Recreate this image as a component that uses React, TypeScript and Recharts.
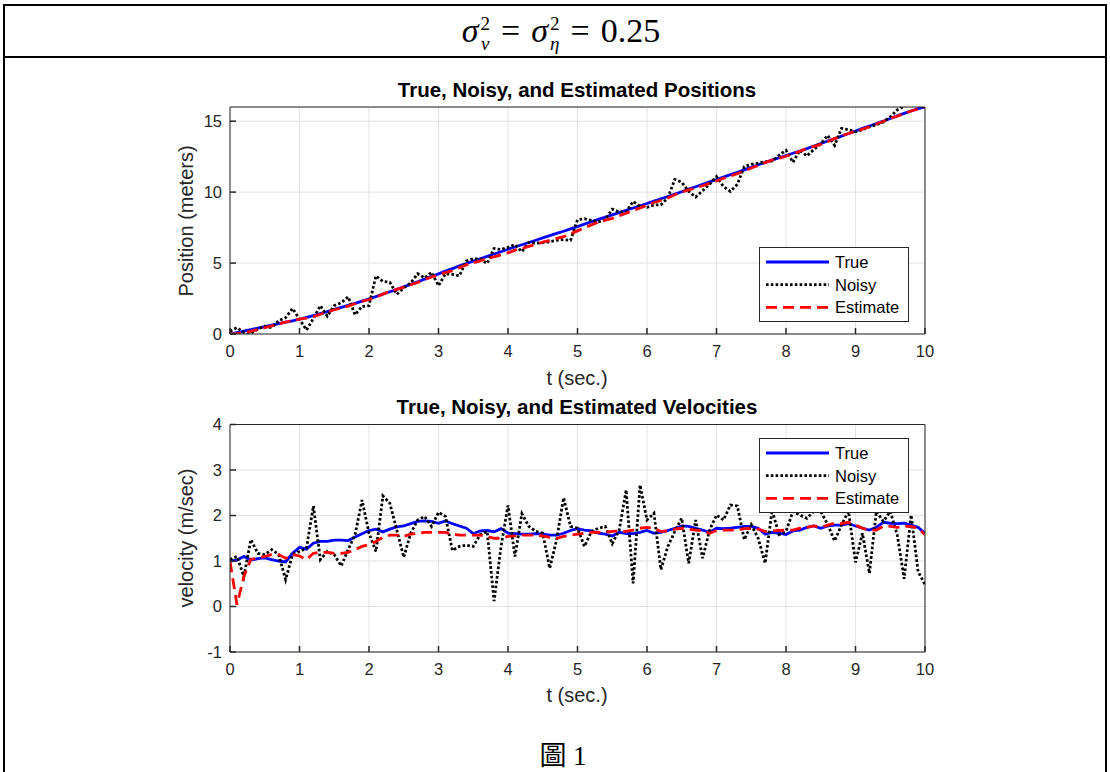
import { LineChart, Line, XAxis, YAxis, CartesianGrid, Legend } from "recharts";

const TIME = [
  0, 0.1, 0.2, 0.3, 0.4, 0.5, 0.6, 0.7, 0.8, 0.9, 1,
  1.1, 1.2, 1.3, 1.4, 1.5, 1.6, 1.7, 1.8, 1.9, 2,
  2.1, 2.2, 2.3, 2.4, 2.5, 2.6, 2.7, 2.8, 2.9, 3,
  3.1, 3.2, 3.3, 3.4, 3.5, 3.6, 3.7, 3.8, 3.9, 4,
  4.1, 4.2, 4.3, 4.4, 4.5, 4.6, 4.7, 4.8, 4.9, 5,
  5.1, 5.2, 5.3, 5.4, 5.5, 5.6, 5.7, 5.8, 5.9, 6,
  6.1, 6.2, 6.3, 6.4, 6.5, 6.6, 6.7, 6.8, 6.9, 7,
  7.1, 7.2, 7.3, 7.4, 7.5, 7.6, 7.7, 7.8, 7.9, 8,
  8.1, 8.2, 8.3, 8.4, 8.5, 8.6, 8.7, 8.8, 8.9, 9,
  9.1, 9.2, 9.3, 9.4, 9.5, 9.6, 9.7, 9.8, 9.9, 10,
];

const TRUE_POS = [
  0, 0.1, 0.2, 0.31, 0.41, 0.52, 0.63, 0.73, 0.83, 0.93, 1.04,
  1.17, 1.3, 1.44, 1.58, 1.73, 1.87, 2.02, 2.16, 2.32, 2.48,
  2.64, 2.81, 2.98, 3.15, 3.32, 3.5, 3.68, 3.87, 4.06, 4.24,
  4.43, 4.61, 4.8, 4.97, 5.14, 5.3, 5.47, 5.64, 5.8, 5.97,
  6.13, 6.29, 6.45, 6.61, 6.77, 6.93, 7.09, 7.24, 7.41, 7.57,
  7.74, 7.91, 8.08, 8.24, 8.4, 8.55, 8.72, 8.88, 9.04, 9.2,
  9.37, 9.53, 9.69, 9.86, 10.03, 10.21, 10.38, 10.55, 10.72, 10.88,
  11.06, 11.23, 11.4, 11.57, 11.75, 11.93, 12.1, 12.26, 12.42, 12.58,
  12.74, 12.9, 13.07, 13.25, 13.42, 13.6, 13.77, 13.95, 14.13, 14.31,
  14.49, 14.66, 14.83, 15.0, 15.19, 15.37, 15.55, 15.72, 15.88, 16.0,
];

const NOISY_POS = [
  0.2, 0.45, 0.1, 0.05, 0.35, 0.55, 0.45, 0.95, 1.15, 1.8, 1.05,
  0.28, 1.1, 2.0, 1.25, 2.0, 2.2, 2.62, 1.35, 1.95, 2.0,
  4.1, 3.7, 3.65, 2.8, 3.25, 3.6, 4.25, 3.95, 4.35, 3.4,
  4.25, 4.2, 4.1, 5.15, 5.3, 5.3, 4.97, 6.03, 5.95, 6.1,
  6.3, 5.8, 6.45, 6.4, 6.45, 6.5, 6.6, 6.65, 6.6, 8.05,
  8.13, 8.0, 7.9, 8.05, 8.8, 8.6, 8.6, 9.35, 9.0, 8.93,
  9.1, 9.1, 9.6, 10.9, 10.7, 10.05, 9.65, 10.1, 10.55, 11.1,
  10.4, 10.05, 10.55, 11.8, 11.95, 12.05, 12.15, 12.2, 12.6, 12.95,
  12.1, 12.95, 12.55, 13.0, 13.4, 14.0, 13.3, 14.5, 14.4, 14.25,
  14.4, 14.6, 14.75, 14.95, 15.3, 15.8, 16.05, 16.2, 16.1, 16.2,
];

const EST_POS = [
  0, 0.02, 0.1, 0.19, 0.31, 0.44, 0.57, 0.71, 0.83, 0.95, 1.04,
  1.12, 1.22, 1.39, 1.55, 1.71, 1.82, 1.97, 2.13, 2.3, 2.43,
  2.61, 2.81, 3.0, 3.15, 3.3, 3.47, 3.63, 3.84, 4.02, 4.16,
  4.33, 4.47, 4.68, 4.87, 5.02, 5.15, 5.32, 5.44, 5.58, 5.72,
  5.91, 6.04, 6.17, 6.31, 6.47, 6.6, 6.74, 6.86, 7.06, 7.27,
  7.49, 7.69, 7.88, 8.02, 8.15, 8.33, 8.52, 8.7, 8.89, 9.08,
  9.27, 9.41, 9.59, 9.81, 10.01, 10.16, 10.3, 10.45, 10.62, 10.78,
  10.98, 11.13, 11.3, 11.49, 11.7, 11.88, 12.08, 12.26, 12.39, 12.53,
  12.69, 12.88, 13.07, 13.23, 13.37, 13.57, 13.77, 13.97, 14.13, 14.29,
  14.44, 14.61, 14.8, 14.98, 15.19, 15.35, 15.52, 15.72, 15.85, 16.0,
];

const TRUE_VEL = [
  1.0, 1.02, 1.1, 1.02, 1.05, 1.07, 1.03, 1.0, 0.98, 1.17, 1.3,
  1.26, 1.39, 1.43, 1.43, 1.46, 1.46, 1.45, 1.53, 1.6, 1.67,
  1.7, 1.64, 1.7, 1.75, 1.77, 1.82, 1.87, 1.88, 1.87, 1.83,
  1.88, 1.82, 1.77, 1.72, 1.6, 1.66, 1.67, 1.64, 1.71, 1.61,
  1.6, 1.59, 1.59, 1.6, 1.59, 1.57, 1.57, 1.61, 1.67, 1.71,
  1.68, 1.66, 1.61, 1.59, 1.55, 1.63, 1.6, 1.6, 1.63, 1.67,
  1.61, 1.63, 1.67, 1.72, 1.77, 1.76, 1.72, 1.68, 1.63, 1.72,
  1.71, 1.72, 1.74, 1.76, 1.76, 1.72, 1.59, 1.63, 1.61, 1.58,
  1.66, 1.68, 1.74, 1.77, 1.72, 1.77, 1.79, 1.79, 1.82, 1.77,
  1.72, 1.68, 1.74, 1.85, 1.83, 1.82, 1.83, 1.79, 1.74, 1.61,
];

const NOISY_VEL = [
  1.03, 1.1, 0.66, 1.47, 1.17, 1.14, 1.25, 1.14, 0.59, 1.14, 1.21,
  1.28, 2.21, 1.03, 1.21, 1.14, 0.89, 1.25, 1.58, 2.34, 1.61,
  1.21, 2.43, 2.27, 1.68, 1.08, 1.61, 1.9, 1.98, 1.76, 2.07,
  1.98, 1.23, 1.32, 1.35, 1.32, 1.58, 1.65, 0.12, 1.32, 2.22,
  1.1, 2.04, 1.76, 1.65, 1.61, 0.84, 1.47, 2.39, 1.76, 1.72,
  1.32, 1.65, 1.72, 1.76, 1.38, 1.68, 2.56, 0.51, 2.67, 1.9,
  2.05, 0.81, 1.32, 1.65, 1.94, 0.95, 1.9, 1.06, 1.68, 2.01,
  1.9, 2.23, 2.21, 1.47, 1.8, 1.5, 0.95, 2.12, 1.58, 1.65,
  2.09, 2.01, 1.94, 2.09, 2.09, 1.8, 1.44, 1.8, 2.09, 0.97,
  1.61, 0.73, 2.09, 1.87, 2.09, 1.58, 0.61, 2.01, 0.77, 0.48,
];

const EST_VEL = [
  0.99, 0.04, 0.66, 1.04, 1.06, 1.1, 1.14, 1.14, 1.06, 1.14, 1.11,
  1.03, 1.17, 1.19, 1.19, 1.17, 1.17, 1.19, 1.25, 1.32, 1.36,
  1.43, 1.52, 1.57, 1.57, 1.54, 1.59, 1.61, 1.63, 1.63, 1.63,
  1.63, 1.59, 1.57, 1.57, 1.57, 1.57, 1.54, 1.5, 1.5, 1.54,
  1.55, 1.57, 1.57, 1.57, 1.55, 1.52, 1.5, 1.54, 1.57, 1.59,
  1.61, 1.63, 1.63, 1.63, 1.65, 1.66, 1.65, 1.68, 1.72, 1.74,
  1.72, 1.65, 1.66, 1.7, 1.72, 1.7, 1.68, 1.66, 1.61, 1.67,
  1.68, 1.68, 1.68, 1.71, 1.72, 1.7, 1.65, 1.66, 1.67, 1.68,
  1.68, 1.72, 1.74, 1.77, 1.74, 1.79, 1.83, 1.82, 1.85, 1.79,
  1.72, 1.68, 1.68, 1.76, 1.76, 1.74, 1.76, 1.76, 1.72, 1.58,
];

const T_TICKS = [0, 1, 2, 3, 4, 5, 6, 7, 8, 9, 10];
const POS_TICKS = [0, 5, 10, 15];
const VEL_TICKS = [-1, 0, 1, 2, 3, 4];

const posData = TIME.map((t, i) => ({
  t,
  truth: TRUE_POS[i],
  noisy: NOISY_POS[i],
  est: EST_POS[i],
}));

const velData = TIME.map((t, i) => ({
  t,
  truth: TRUE_VEL[i],
  noisy: NOISY_VEL[i],
  est: EST_VEL[i],
}));

const AXIS = "#262626";
const FONT = '"Liberation Sans", Arial, sans-serif';
const tickStyle = { fill: AXIS, fontSize: 16.5, fontFamily: FONT };

const LINE_W = 2.8;
const DOTS = "2.6 2.2";
const DASHES = "11 6";

// plot box is 230..925 horizontally in both panels
const PLOT_LEFT = 230;
const PLOT_RIGHT = 925;
const Y_AXIS_W = 60;
const X_AXIS_H = 30;
const EDGE = 10; // size of the mirrored (top/right) tick-only axes

function LegendBox() {
  const rows = [
    { name: "True", color: "#0000ff", dash: undefined },
    { name: "Noisy", color: "#000000", dash: DOTS },
    { name: "Estimate", color: "#ff0000", dash: DASHES },
  ];
  return (
    <svg width={150} height={75}>
      <rect x={0.5} y={0.5} width={149} height={74} fill="#fff" stroke={AXIS} strokeWidth={1} />
      {rows.map((r, i) => (
        <g key={r.name}>
          <line
            x1={7}
            x2={70}
            y1={15 + i * 22.7}
            y2={15 + i * 22.7}
            stroke={r.color}
            strokeWidth={LINE_W}
            strokeDasharray={r.dash}
          />
          <text x={76} y={21 + i * 22.7} fontSize={16.5} fontFamily={FONT} fill="#000">
            {r.name}
          </text>
        </g>
      ))}
    </svg>
  );
}

type PanelProps = {
  data: { t: number; truth: number; noisy: number; est: number }[];
  top: number;
  height: number;
  plotTop: number;
  plotBottom: number;
  domain: [number, number];
  yTicks: number[];
  legendTop: number;
};

function Panel({ data, top, height, plotTop, plotBottom, domain, yTicks, legendTop }: PanelProps) {
  return (
    <div style={{ position: "absolute", left: 0, top }}>
      <LineChart
        width={1110}
        height={height}
        data={data}
        margin={{
          top: plotTop - EDGE,
          right: 1110 - PLOT_RIGHT - EDGE,
          bottom: height - plotBottom - X_AXIS_H,
          left: PLOT_LEFT - Y_AXIS_W,
        }}
      >
        <CartesianGrid stroke="#e3e3e3" strokeWidth={1} />
        <XAxis
          dataKey="t"
          type="number"
          domain={[0, 10]}
          ticks={T_TICKS}
          allowDataOverflow
          height={X_AXIS_H}
          tickSize={-6}
          tickMargin={17}
          tick={tickStyle}
          stroke={AXIS}
          tickLine={{ stroke: AXIS, strokeWidth: 1.5 }}
        />
        <XAxis
          xAxisId="top"
          orientation="top"
          type="number"
          domain={[0, 10]}
          ticks={T_TICKS}
          allowDataOverflow
          height={EDGE}
          tickSize={-6}
          tick={false}
          stroke={AXIS}
          tickLine={{ stroke: AXIS, strokeWidth: 1.5 }}
        />
        <YAxis
          type="number"
          domain={domain}
          ticks={yTicks}
          allowDataOverflow
          width={Y_AXIS_W}
          tickSize={-6}
          tickMargin={14}
          tick={tickStyle}
          stroke={AXIS}
          tickLine={{ stroke: AXIS, strokeWidth: 1.5 }}
        />
        <YAxis
          yAxisId="right"
          orientation="right"
          type="number"
          domain={domain}
          ticks={yTicks}
          allowDataOverflow
          width={EDGE}
          tickSize={-6}
          tick={false}
          stroke={AXIS}
          tickLine={{ stroke: AXIS, strokeWidth: 1.5 }}
        />
        <Line
          dataKey="truth"
          name="True"
          type="linear"
          stroke="#0000ff"
          strokeWidth={LINE_W}
          dot={false}
          isAnimationActive={false}
        />
        <Line
          dataKey="noisy"
          name="Noisy"
          type="linear"
          stroke="#000000"
          strokeWidth={LINE_W}
          strokeDasharray={DOTS}
          dot={false}
          isAnimationActive={false}
        />
        <Line
          dataKey="est"
          name="Estimate"
          type="linear"
          stroke="#ff0000"
          strokeWidth={LINE_W}
          strokeDasharray={DASHES}
          dot={false}
          isAnimationActive={false}
        />
        <Legend
          layout="horizontal"
          verticalAlign="middle"
          align="center"
          content={() => <LegendBox />}
          wrapperStyle={{ left: 759, top: legendTop, width: 150, height: 75 }}
        />
      </LineChart>
    </div>
  );
}

const labelStyle = {
  position: "absolute" as const,
  fontFamily: FONT,
  color: AXIS,
  whiteSpace: "nowrap" as const,
};

function Scripts({ sup, sub }: { sup: string; sub: string }) {
  return (
    <span
      style={{
        display: "inline-flex",
        flexDirection: "column",
        verticalAlign: "middle",
        fontSize: 19,
        lineHeight: "20px",
        marginLeft: 2,
        marginRight: 11,
        fontStyle: "normal",
      }}
    >
      <span>{sup}</span>
      <i>{sub}</i>
    </span>
  );
}

export default function App() {
  return (
    <div
      style={{
        position: "absolute",
        left: 0,
        top: 0,
        width: 1110,
        height: 772,
        background: "#fff",
        overflow: "hidden",
      }}
    >
      {/* table cell borders */}
      <div style={{ position: "absolute", left: 3, top: 4, width: 1104, height: 2, background: "#000" }} />
      <div style={{ position: "absolute", left: 3, top: 56, width: 1104, height: 2, background: "#000" }} />
      <div style={{ position: "absolute", left: 3, top: 4, width: 2, height: 768, background: "#000" }} />
      <div style={{ position: "absolute", left: 1105, top: 4, width: 2, height: 768, background: "#000" }} />

      <div
        style={{
          position: "absolute",
          left: 0,
          top: 9,
          width: 1122,
          textAlign: "center",
          fontFamily: '"Liberation Serif", serif',
          fontSize: 34,
          lineHeight: "44px",
        }}
      >
        <i>σ</i>
        <Scripts sup="2" sub="v" />
        <span style={{ marginRight: 11 }}>=</span>
        <i>σ</i>
        <Scripts sup="2" sub="η" />
        <span style={{ marginRight: 11 }}>=</span>0.25
      </div>

      <Panel
        data={posData}
        top={0}
        height={400}
        plotTop={107}
        plotBottom={334}
        domain={[0, 16]}
        yTicks={POS_TICKS}
        legendTop={247}
      />
      <Panel
        data={velData}
        top={380}
        height={320}
        plotTop={44.5}
        plotBottom={272}
        domain={[-1, 4]}
        yTicks={VEL_TICKS}
        legendTop={57.5}
      />

      <div style={{ ...labelStyle, left: 0, width: 1154, top: 78, textAlign: "center", fontWeight: "bold", fontSize: 20.5, color: "#000" }}>
        True, Noisy, and Estimated Positions
      </div>
      <div style={{ ...labelStyle, left: 0, width: 1154, top: 395, textAlign: "center", fontWeight: "bold", fontSize: 20.5, color: "#000" }}>
        True, Noisy, and Estimated Velocities
      </div>
      <div style={{ ...labelStyle, left: 0, width: 1154, top: 367, textAlign: "center", fontSize: 20 }}>
        t (sec.)
      </div>
      <div style={{ ...labelStyle, left: 0, width: 1154, top: 684, textAlign: "center", fontSize: 20 }}>
        t (sec.)
      </div>
      <div
        style={{
          ...labelStyle,
          left: 186,
          top: 221,
          fontSize: 20,
          transform: "translate(-50%, -50%) rotate(-90deg)",
        }}
      >
        Position (meters)
      </div>
      <div
        style={{
          ...labelStyle,
          left: 186,
          top: 538,
          fontSize: 20,
          transform: "translate(-50%, -50%) rotate(-90deg)",
        }}
      >
        velocity (m/sec)
      </div>
      <div
        style={{
          position: "absolute",
          left: 0,
          width: 1126,
          top: 734,
          textAlign: "center",
          fontFamily: '"Liberation Serif", "Noto Sans CJK TC", serif',
          fontSize: 27,
        }}
      >
        圖 1
      </div>
    </div>
  );
}
